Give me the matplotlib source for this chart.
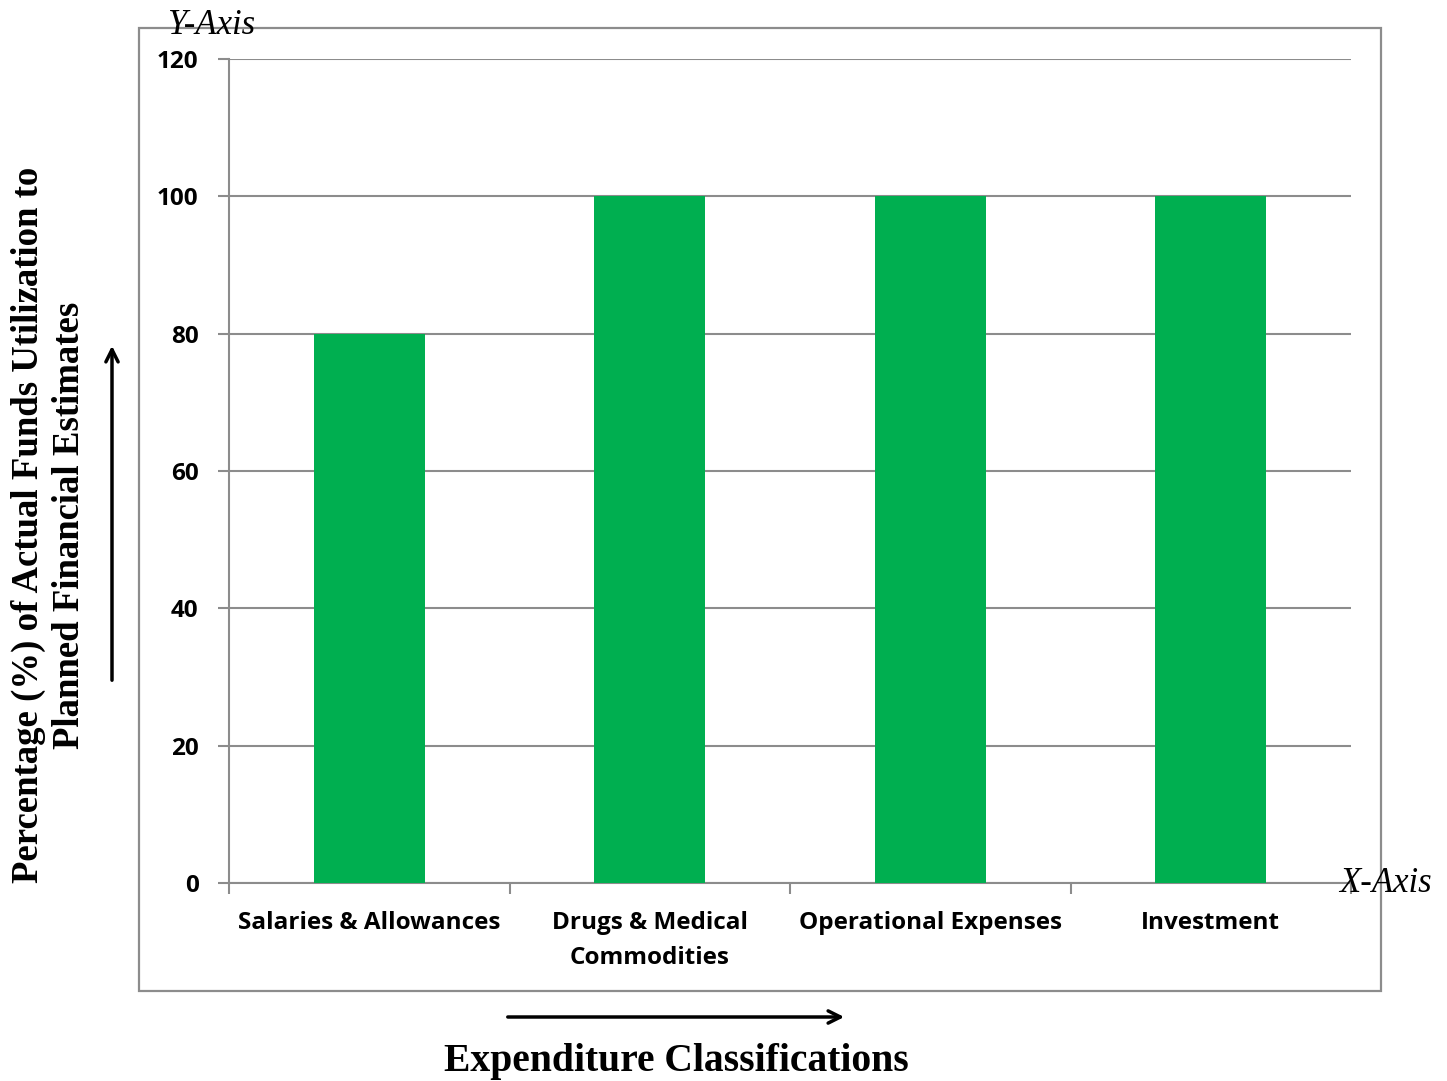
import matplotlib
matplotlib.use("Agg")
import matplotlib.pyplot as plt
from matplotlib.patches import Rectangle, FancyArrowPatch

categories = ["Salaries & Allowances", "Drugs & Medical\nCommodities",
              "Operational Expenses", "Investment"]
values = [80, 100, 100, 100]
y_ticks = [0, 20, 40, 60, 80, 100, 120]

bar_color = "#00AF50"
grid_color = "#8C8C8C"
tick_font = dict(family=["Open Sans", "DejaVu Sans"], weight="bold", size=17.5)
serif = ["Liberation Serif", "DejaVu Serif"]

fig = plt.figure(figsize=(14.47, 10.81), dpi=100)
ax = fig.add_axes([0.1583, 0.1832, 0.7754, 0.7622])

x = list(range(len(categories)))
ax.bar(x, values, width=0.396, color=bar_color, zorder=3)

ax.set_xlim(-0.5, len(categories) - 0.5)
ax.set_ylim(0, 120)
ax.set_yticks(y_ticks)
ax.set_yticklabels([str(v) for v in y_ticks], **tick_font)
ax.yaxis.grid(True, color=grid_color, linewidth=1.5, zorder=0)

ax.set_xticks([i + 0.5 for i in range(-1, len(categories))], minor=False)
ax.set_xticklabels([])
ax.set_xticks(x, minor=True)
ax.set_xticklabels(categories, minor=True, ha="center", va="top",
                   linespacing=1.62, **tick_font)
ax.tick_params(axis="x", which="major", length=8, width=1.5, color=grid_color,
               direction="out")
ax.tick_params(axis="x", which="minor", length=0, pad=20)
ax.tick_params(axis="y", length=8, width=1.5, color=grid_color, pad=14)

for side in ("top", "right"):
    ax.spines[side].set_visible(False)
for side in ("left", "bottom"):
    ax.spines[side].set_color(grid_color)
    ax.spines[side].set_linewidth(1.5)

# outer chart frame
fig.patches.append(Rectangle((0.0961, 0.0833), 0.8583, 0.8908,
                             transform=fig.transFigure, fill=False,
                             edgecolor="#8C8C8C", linewidth=1.6))

# axis titles
fig.text(49 / 1447, 1 - 525 / 1081,
         "Percentage (%) of Actual Funds Utilization to\nPlanned Financial Estimates",
         rotation=90, ha="center", va="center", family=serif, weight="bold",
         size=26.5, linespacing=1.2)
fig.text(676 / 1447, 1 - 1062 / 1081, "Expenditure Classifications", ha="center",
         va="center", family=serif, weight="bold", size=28.5)

# direction arrows
fig.patches.append(FancyArrowPatch((0.0774, 1 - 683 / 1081), (0.0774, 1 - 343 / 1081),
                                   transform=fig.transFigure, arrowstyle="->",
                                   mutation_scale=22, linewidth=2.5, color="black"))
fig.patches.append(FancyArrowPatch((505 / 1447, 1 - 1017 / 1081), (847 / 1447, 1 - 1017 / 1081),
                                   transform=fig.transFigure, arrowstyle="->",
                                   mutation_scale=22, linewidth=2.5, color="black"))

# axis markers
fig.text(211 / 1447, 1 - 25 / 1081, "Y-Axis", ha="center", va="center",
         family=serif, style="italic", size=25)
fig.text(1385 / 1447, 1 - 884 / 1081, "X-Axis", ha="center", va="center",
         family=serif, style="italic", size=25)

fig.savefig("out.png", dpi=100)
